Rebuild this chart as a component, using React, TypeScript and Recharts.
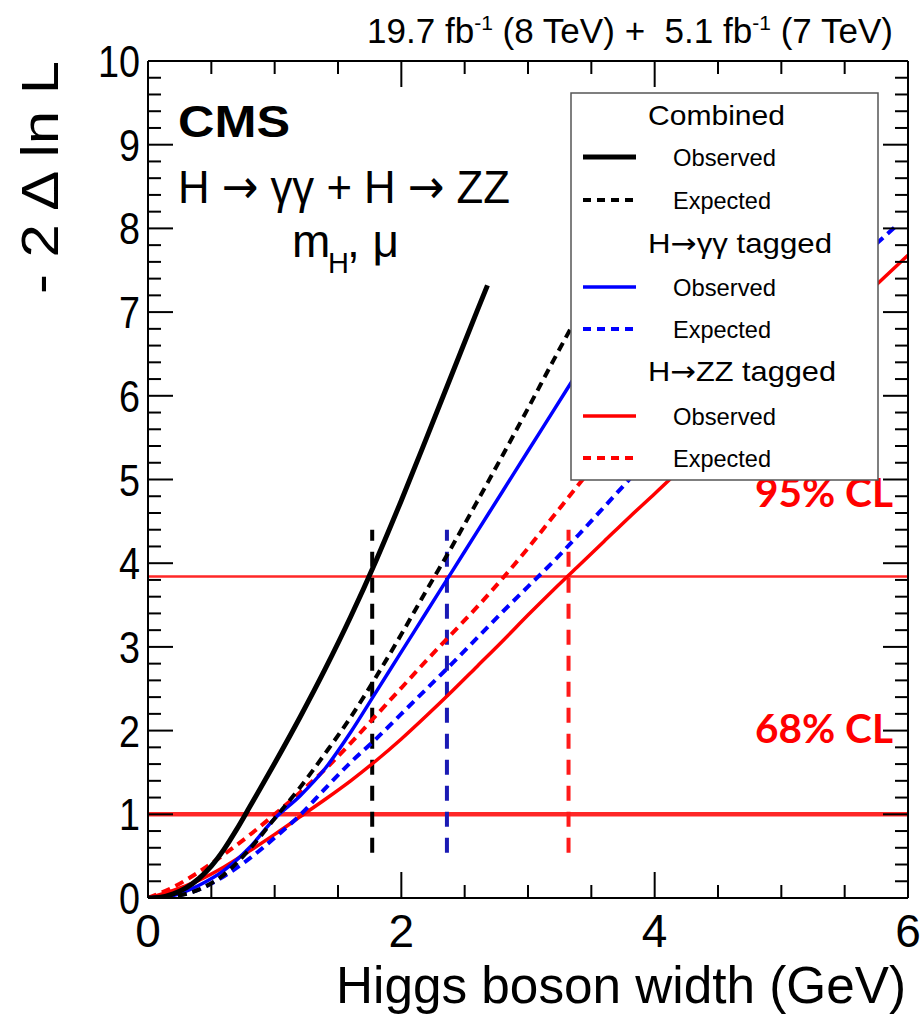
import React from 'react';
import { LineChart, Line, XAxis, YAxis, ReferenceLine } from 'recharts';

const W = 923;
const H = 1019;

// ---- data (x = Higgs width in GeV, y = -2 Δ ln L) ----
const combinedObsX = [0, 0.1, 0.2, 0.3, 0.4, 0.5, 0.6, 0.7, 0.8, 1.0, 1.2, 1.4, 1.6, 1.8, 2.0, 2.2, 2.4, 2.6, 2.68];
const combinedObsY = [0, 0.01, 0.05, 0.12, 0.23, 0.38, 0.58, 0.82, 1.08, 1.61, 2.16, 2.74, 3.36, 4.03, 4.75, 5.5, 6.26, 7.02, 7.32];

const combinedExpX = [0, 0.2, 0.4, 0.6, 0.8, 1.0, 1.2, 1.4, 1.6, 1.8, 2.0, 2.2, 2.4, 2.6, 2.8, 3.0, 3.2, 3.4, 3.6, 3.8, 4.0, 4.2];
const combinedExpY = [0, 0.02, 0.1, 0.28, 0.58, 0.95, 1.32, 1.73, 2.16, 2.64, 3.15, 3.68, 4.2, 4.74, 5.29, 5.85, 6.42, 6.98, 7.55, 8.12, 8.68, 9.24];

const ggObsX = [0, 0.2, 0.4, 0.6, 0.8, 1.0, 1.2, 1.4, 1.6, 1.8, 2.0, 2.2, 2.4, 2.6, 2.8, 3.0, 3.2, 3.4, 3.6, 3.8, 4.0, 4.2, 4.4];
const ggObsY = [0, 0.03, 0.15, 0.33, 0.6, 0.95, 1.22, 1.55, 1.98, 2.46, 2.94, 3.42, 3.9, 4.38, 4.86, 5.34, 5.82, 6.3, 6.78, 7.26, 7.74, 8.22, 8.7];

const ggExpX = [0, 0.2, 0.4, 0.6, 0.8, 1.0, 1.2, 1.4, 1.6, 1.8, 2.0, 2.2, 2.4, 2.6, 2.8, 3.0, 3.2, 3.4, 3.6, 3.8, 4.0, 4.5, 5.0, 5.5, 5.9];
const ggExpY = [0, 0.02, 0.1, 0.26, 0.47, 0.72, 0.99, 1.31, 1.62, 1.9, 2.2, 2.5, 2.8, 3.11, 3.42, 3.72, 4.02, 4.34, 4.67, 5.0, 5.32, 6.08, 6.8, 7.48, 8.02];

const zzObsX = [0, 0.2, 0.4, 0.6, 0.8, 1.0, 1.2, 1.4, 1.6, 1.8, 2.0, 2.2, 2.4, 2.6, 2.8, 3.0, 3.2, 3.4, 3.6, 3.8, 4.0, 4.5, 5.0, 5.5, 6.0];
const zzObsY = [0, 0.09, 0.21, 0.37, 0.56, 0.76, 0.97, 1.18, 1.4, 1.64, 1.9, 2.18, 2.47, 2.77, 3.07, 3.38, 3.68, 3.97, 4.26, 4.55, 4.83, 5.55, 6.26, 6.97, 7.68];

const zzExpX = [0, 0.2, 0.4, 0.6, 0.8, 1.0, 1.2, 1.4, 1.6, 1.8, 2.0, 2.2, 2.4, 2.6, 2.8, 3.0, 3.2, 3.4, 3.6, 3.8, 4.0, 4.5, 5.0];
const zzExpY = [0, 0.13, 0.31, 0.52, 0.75, 1.0, 1.26, 1.54, 1.85, 2.18, 2.51, 2.84, 3.16, 3.48, 3.82, 4.18, 4.56, 4.94, 5.31, 5.68, 6.05, 6.97, 7.9];

// CL thresholds and interval limits
const clLevels = [1, 3.84];
const clLabels = ['68% CL', '95% CL'];
const limitValues = [1.77, 2.36, 3.32];
const limitColors = ['#000000', '#1a1ab4', '#ff1a1a'];
const limitRange = [0.54, 4.4];

// ticks
const xMajorTicks = [0, 2, 4, 6];
const xTicks = [0, 0.5, 1, 1.5, 2, 2.5, 3, 3.5, 4, 4.5, 5, 5.5, 6];
const yMajorTicks = [0, 1, 2, 3, 4, 5, 6, 7, 8, 9, 10];
const yTicks = Array.from({ length: 51 }, (_, i) => Math.round(i * 2) / 10);

const toData = (xs: number[], ys: number[]) => xs.map((x, i) => ({ x, y: ys[i] }));

const DASH = '9 6';

const series = [
  { key: 'zzObs', data: toData(zzObsX, zzObsY), color: '#ff0000', dash: undefined, width: 3.5 },
  { key: 'zzExp', data: toData(zzExpX, zzExpY), color: '#ff0000', dash: DASH, width: 4 },
  { key: 'ggExp', data: toData(ggExpX, ggExpY), color: '#0000ff', dash: DASH, width: 4 },
  { key: 'ggObs', data: toData(ggObsX, ggObsY), color: '#0000ff', dash: undefined, width: 3.5 },
  { key: 'combExp', data: toData(combinedExpX, combinedExpY), color: '#000000', dash: DASH, width: 4 },
  { key: 'combObs', data: toData(combinedObsX, combinedObsY), color: '#000000', dash: undefined, width: 5 },
];

const legendGroups = [
  { name: 'Combined', pre: '', post: '', color: '#000000', obsWidth: 5, titleLen: 137 },
  { name: 'gg', pre: 'H', post: '\u03b3\u03b3 tagged', color: '#0000ff', obsWidth: 3.5, titleLen: 184 },
  { name: 'zz', pre: 'H', post: 'ZZ tagged', color: '#ff0000', obsWidth: 3.5, titleLen: 188 },
];

const FONT = "'Liberation Sans', Arial, Helvetica, sans-serif";
const ARROW_FONT = "'DejaVu Sans', sans-serif";

const isMajorY = (v: number) => yMajorTicks.some((m) => Math.abs(m - v) < 1e-6);

const BottomTick = (props: any) => {
  const { x, y, payload } = props;
  const v = payload.value;
  const major = xMajorTicks.includes(v);
  return (
    <g>
      <line x1={x} x2={x} y1={y} y2={y - (major ? 26 : 13)} stroke="#000" strokeWidth={2} />
      {major && (
        <text x={x} y={y + 49} textAnchor="middle" fontFamily={FONT} fontSize={46} fill="#000">
          {v}
        </text>
      )}
    </g>
  );
};

const TopTick = (props: any) => {
  const { x, y, payload } = props;
  const major = xMajorTicks.includes(payload.value);
  return <line x1={x} x2={x} y1={y} y2={y + (major ? 26 : 13)} stroke="#000" strokeWidth={2} />;
};

const LeftTick = (props: any) => {
  const { x, y, payload } = props;
  const v = payload.value;
  const major = isMajorY(v);
  const label = String(Math.round(v));
  return (
    <g>
      <line x1={x} x2={x + (major ? 25 : 13)} y1={y} y2={y} stroke="#000" strokeWidth={2} />
      {major && (
        <text
          x={x - 8}
          y={y + 16}
          textAnchor="end"
          fontFamily={FONT}
          fontSize={44}
          fill="#000"
          textLength={21 * label.length}
          lengthAdjust="spacingAndGlyphs"
        >
          {label}
        </text>
      )}
    </g>
  );
};

const RightTick = (props: any) => {
  const { x, y, payload } = props;
  const major = isMajorY(payload.value);
  return <line x1={x} x2={x - (major ? 25 : 13)} y1={y} y2={y} stroke="#000" strokeWidth={2} />;
};

const legendRows = [115, 157, 200, 243, 287, 329, 371, 416, 458];

const Overlay = () => (
  <svg width={W} height={H} style={{ position: 'absolute', left: 0, top: 0, pointerEvents: 'none' }}>
    {/* luminosity */}
    <text x={367} y={43} fontFamily={FONT} fontSize={35} fill="#000" textLength={526} lengthAdjust="spacingAndGlyphs">
      19.7 fb<tspan fontSize={21} dy={-13}>-1</tspan>
      <tspan dy={13}>{' (8 TeV) +\u00a0 5.1 fb'}</tspan>
      <tspan fontSize={21} dy={-13}>-1</tspan>
      <tspan dy={13}> (7 TeV)</tspan>
    </text>
    {/* CMS labels */}
    <text x={178} y={137} fontFamily={FONT} fontWeight="bold" fontSize={45} fill="#000" textLength={112} lengthAdjust="spacingAndGlyphs">
      CMS
    </text>
    <text x={178} y={203} fontFamily={FONT} fontSize={47} fill="#000" textLength={332} lengthAdjust="spacingAndGlyphs">
      {'H '}
      <tspan fontFamily={ARROW_FONT}>{'\u2192'}</tspan>
      {' \u03b3\u03b3 + H '}
      <tspan fontFamily={ARROW_FONT}>{'\u2192'}</tspan>
      {' ZZ'}
    </text>
    <text x={292} y={257} fontFamily={FONT} fontSize={46} fill="#000">
      m
    </text>
    <text x={328} y={273} fontFamily={FONT} fontSize={29} fill="#000">
      H
    </text>
    <text x={347} y={257} fontFamily={FONT} fontSize={46} fill="#000">
      , {'\u03bc'}
    </text>
    {/* axis titles */}
    <text x={336} y={1003} fontFamily={FONT} fontSize={52} fill="#000" textLength={570} lengthAdjust="spacingAndGlyphs">
      Higgs boson width (GeV)
    </text>
    <text
      x={0}
      y={0}
      transform="translate(58,294) rotate(-90)"
      fontFamily={FONT}
      fontSize={52}
      fill="#000"
      textLength={233}
      lengthAdjust="spacingAndGlyphs"
    >
      - 2 {'\u0394'} ln L
    </text>
    {/* CL labels */}
    <text x={755} y={507} fontFamily="Lato, 'Open Sans', sans-serif" fontWeight="bold" fontSize={40} fill="#ff0000" textLength={138} lengthAdjust="spacingAndGlyphs">
      {clLabels[1]}
    </text>
    <text x={755} y={743} fontFamily="Lato, 'Open Sans', sans-serif" fontWeight="bold" fontSize={40} fill="#ff0000" textLength={138} lengthAdjust="spacingAndGlyphs">
      {clLabels[0]}
    </text>
    {/* legend */}
    <rect x={571} y={93} width={307} height={387} fill="#fff" stroke="#555" strokeWidth={1.5} />
    {legendGroups.map((g, gi) => {
      const hy = legendRows[gi * 3];
      const oy = legendRows[gi * 3 + 1];
      const ey = legendRows[gi * 3 + 2];
      return (
        <g key={g.name}>
          <text x={648} y={hy + 10} fontFamily={FONT} fontSize={28} fill="#000" textLength={g.titleLen} lengthAdjust="spacingAndGlyphs">
            {g.pre ? (
              <>
                {g.pre}
                <tspan fontFamily={ARROW_FONT}>{'\u2192'}</tspan>
                {g.post}
              </>
            ) : (
              g.name
            )}
          </text>
          <line x1={583} x2={636} y1={oy} y2={oy} stroke={g.color} strokeWidth={g.obsWidth} />
          <text x={673} y={oy + 9} fontFamily={FONT} fontSize={24} fill="#000" textLength={103} lengthAdjust="spacingAndGlyphs">
            Observed
          </text>
          <line x1={583} x2={636} y1={ey} y2={ey} stroke={g.color} strokeWidth={4} strokeDasharray="8 6" />
          <text x={673} y={ey + 9} fontFamily={FONT} fontSize={24} fill="#000" textLength={98} lengthAdjust="spacingAndGlyphs">
            Expected
          </text>
        </g>
      );
    })}
  </svg>
);

export default function App() {
  return (
    <div style={{ position: 'absolute', left: 0, top: 0, width: W, height: H, background: '#fff', fontFamily: FONT }}>
      <LineChart width={W} height={H} margin={{ top: 31, right: 0, bottom: 91, left: 108 }}>
        <XAxis
          xAxisId="b"
          type="number"
          dataKey="x"
          domain={[0, 6]}
          allowDataOverflow
          ticks={xTicks}
          interval={0}
          tickSize={0}
          tickMargin={0}
          tickLine={false}
          tick={BottomTick}
          height={30}
          axisLine={{ stroke: '#000', strokeWidth: 2 }}
        />
        <XAxis
          xAxisId="t"
          orientation="top"
          type="number"
          dataKey="x"
          domain={[0, 6]}
          allowDataOverflow
          ticks={xTicks}
          interval={0}
          tickSize={0}
          tickMargin={0}
          tickLine={false}
          tick={TopTick}
          height={30}
          axisLine={{ stroke: '#000', strokeWidth: 2 }}
        />
        <YAxis
          yAxisId="l"
          type="number"
          domain={[0, 10]}
          allowDataOverflow
          ticks={yTicks}
          interval={0}
          tickSize={0}
          tickMargin={0}
          tickLine={false}
          tick={LeftTick}
          width={40}
          axisLine={{ stroke: '#000', strokeWidth: 2 }}
        />
        <YAxis
          yAxisId="r"
          orientation="right"
          type="number"
          domain={[0, 10]}
          allowDataOverflow
          ticks={yTicks}
          interval={0}
          tickSize={0}
          tickMargin={0}
          tickLine={false}
          tick={RightTick}
          width={15}
          axisLine={{ stroke: '#000', strokeWidth: 2 }}
        />
        <Line
          xAxisId="t"
          yAxisId="r"
          data={series[0].data}
          dataKey="y"
          stroke="none"
          dot={false}
          activeDot={false}
          isAnimationActive={false}
          legendType="none"
        />
        {clLevels.map((v, i) => (
          <ReferenceLine
            key={'cl' + i}
            xAxisId="b"
            yAxisId="l"
            y={v}
            stroke="#ff1010"
            strokeWidth={i === 0 ? 4.5 : 2.5}
            strokeOpacity={0.9}
          />
        ))}
        {limitValues.map((v, i) => (
          <ReferenceLine
            key={'lim' + i}
            xAxisId="b"
            yAxisId="l"
            segment={[
              { x: v, y: limitRange[0] },
              { x: v, y: limitRange[1] },
            ]}
            stroke={limitColors[i]}
            strokeWidth={4}
            strokeDasharray="15 11"
          />
        ))}
        {series.map((s) => (
          <Line
            key={s.key}
            xAxisId="b"
            yAxisId="l"
            data={s.data}
            dataKey="y"
            type="monotone"
            stroke={s.color}
            strokeWidth={s.width}
            strokeDasharray={s.dash}
            dot={false}
            activeDot={false}
            isAnimationActive={false}
          />
        ))}
      </LineChart>
      <Overlay />
    </div>
  );
}
